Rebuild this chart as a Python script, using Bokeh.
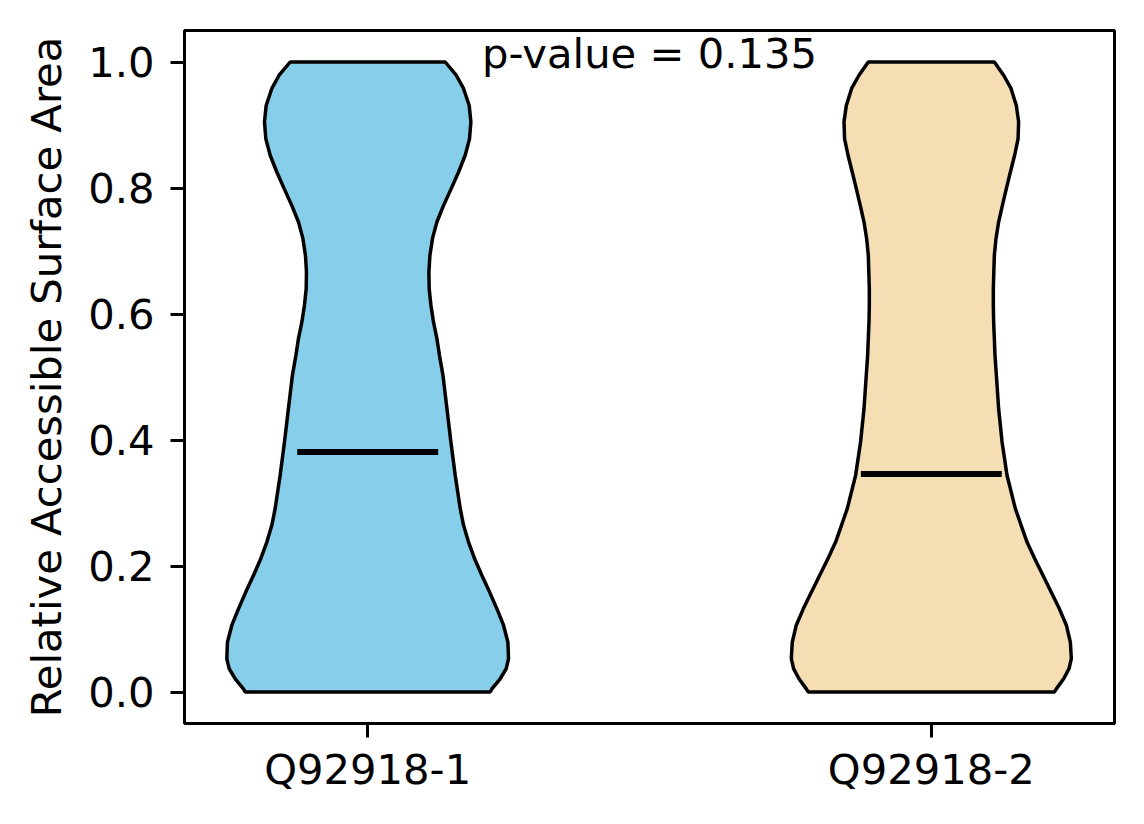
from bokeh.plotting import figure
from bokeh.models import FixedTicker, PrintfTickFormatter
from bokeh.core.properties import value
from bokeh.embed import file_html
from bokeh.resources import INLINE

# ---- data ----
categories = ["Q92918-1", "Q92918-2"]
positions = [1, 2]
# RSA levels (y) at which violin half-widths were read (top -> bottom)
rsa_levels = [1.0, 0.979, 0.958, 0.931, 0.905, 0.878, 0.852, 0.825, 0.799, 0.772,
              0.746, 0.720, 0.693, 0.667, 0.640, 0.614, 0.587, 0.561, 0.534, 0.503,
              0.450, 0.397, 0.344, 0.291, 0.265, 0.238, 0.212, 0.185, 0.159, 0.132,
              0.106, 0.079, 0.053, 0.037, 0.021, 0.005, 0.0]
# scaled KDE half-widths (x units) for each group
density_q1 = [0.1375, 0.1571, 0.1700, 0.1801, 0.1831, 0.1807, 0.1730, 0.1611, 0.1482, 0.1345,
              0.1228, 0.1150, 0.1104, 0.1086, 0.1091, 0.1122, 0.1168, 0.1228, 0.1274, 0.1335,
              0.1406, 0.1476, 0.1553, 0.1642, 0.1700, 0.1789, 0.1895, 0.2027, 0.2161, 0.2293,
              0.2410, 0.2488, 0.2499, 0.2458, 0.2351, 0.2204, 0.2174]
density_q2 = [0.1118, 0.1283, 0.1414, 0.1508, 0.1549, 0.1539, 0.1478, 0.1402, 0.1331, 0.1260,
              0.1194, 0.1148, 0.1118, 0.1109, 0.1100, 0.1100, 0.1106, 0.1118, 0.1130, 0.1154,
              0.1194, 0.1255, 0.1343, 0.1491, 0.1592, 0.1698, 0.1833, 0.1982, 0.2124, 0.2272,
              0.2396, 0.2467, 0.2484, 0.2444, 0.2348, 0.2218, 0.2183]
medians = [0.381, 0.346]
p_value = 0.135
y_ticks = [0.0, 0.2, 0.4, 0.6, 0.8, 1.0]

colors = ["#87CEEB", "#F5DEB3"]
FONT = "DejaVu Sans"
FS = "41.7px"

p = figure(frame_width=930, frame_height=693,
           x_range=(0.675, 2.325), y_range=(-0.05, 1.05),
           output_backend="svg", toolbar_location=None,
           min_border_left=184, min_border_right=22,
           min_border_top=30, min_border_bottom=93,
           background_fill_color="white", border_fill_color="white")

p.outline_line_color = "black"
p.outline_line_width = 3
p.xgrid.visible = False
p.ygrid.visible = False

# violins
for pos, dens, col in zip(positions, [density_q1, density_q2], colors):
    xs = [pos + d for d in dens] + [pos - d for d in reversed(dens)]
    ys = list(rsa_levels) + list(reversed(rsa_levels))
    p.patch(xs, ys, fill_color=col, fill_alpha=1.0, line_color="black", line_width=3.5)

# medians
p.segment(x0=[x - 0.125 for x in positions], x1=[x + 0.125 for x in positions],
          y0=medians, y1=medians, line_color="black", line_width=6)

# p-value annotation
p.text(x=[1.5], y=[1.013], text=[f"p-value = {p_value}"],
       text_font=value(FONT), text_font_size=FS, text_color="black",
       text_align="center", text_baseline="alphabetic")

for ax in (p.xaxis[0], p.yaxis[0]):
    ax.axis_line_width = 3
    ax.axis_line_color = "black"
    ax.major_tick_out = 14
    ax.major_tick_in = 0
    ax.major_tick_line_width = 3
    ax.minor_tick_out = 0
    ax.minor_tick_in = 0
    ax.major_label_text_font = FONT
    ax.major_label_text_font_size = FS
    ax.major_label_text_color = "black"
    ax.axis_label_text_font = FONT
    ax.axis_label_text_font_size = FS
    ax.axis_label_text_font_style = "normal"
    ax.axis_label_text_color = "black"

p.xaxis.ticker = FixedTicker(ticks=positions)
p.xaxis.major_label_overrides = {pos: c for pos, c in zip(positions, categories)}
p.xaxis.major_label_standoff = 7

p.yaxis.ticker = FixedTicker(ticks=y_ticks)
p.yaxis.formatter = PrintfTickFormatter(format="%.1f")
p.yaxis.major_label_standoff = 16
p.yaxis.axis_label = "Relative Accessible Surface Area"
p.yaxis.axis_label_standoff = 14

open("out.html", "w").write(file_html(p, INLINE))
